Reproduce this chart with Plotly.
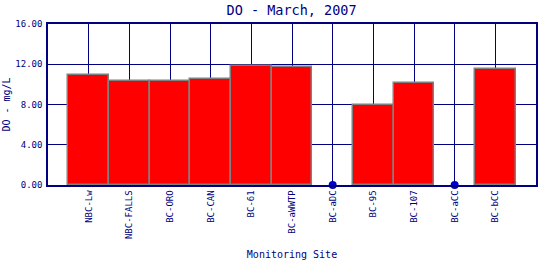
import plotly.graph_objects as go

sites = ["NBC-Lw", "NBC-FALLS", "BC-ORO", "BC-CAN", "BC-61", "BC-aWWTP",
         "BC-aDC", "BC-95", "BC-107", "BC-aCC", "BC-bCC"]
do_values = [10.9, 10.34, 10.34, 10.5, 11.8, 11.7, None, 7.95, 10.14, None, 11.5]
missing_sites = ["BC-aDC", "BC-aCC"]
missing_values = [0, 0]
y_ticks = [0, 4, 8, 12, 16]

navy = "#000080"
font = "DejaVu Sans Mono"

idx = {s: i for i, s in enumerate(sites)}

fig = go.Figure()
fig.add_trace(go.Bar(
    x=list(range(len(sites))), y=do_values, width=1.0,
    marker=dict(color="#FF0000", line=dict(color="#808080", width=1.5)),
    showlegend=False,
))
fig.add_trace(go.Scatter(
    x=[idx[s] for s in missing_sites], y=missing_values, mode="markers",
    marker=dict(color="#0000CC", size=8), showlegend=False, cliponaxis=False,
))

fig.update_layout(
    width=540, height=260,
    margin=dict(l=48, r=4, t=24, b=75, autoexpand=False),
    paper_bgcolor="white", plot_bgcolor="white",
    title=dict(text="DO - March, 2007", x=0.54, xanchor="center", y=0.962, yanchor="middle",
               font=dict(family=font, size=13.5, color=navy)),
    xaxis=dict(
        range=[-1, len(sites)], tickmode="array",
        tickvals=list(range(len(sites))), ticktext=sites, tickangle=-90,
        tickfont=dict(family=font, size=9, color=navy),
        showgrid=True, gridcolor=navy, gridwidth=1.3,
        showline=True, linecolor=navy, linewidth=1.5, mirror=True,
        ticks="", zeroline=False, automargin=False,
        title=dict(text="Monitoring Site", font=dict(family=font, size=10, color=navy), standoff=13),
    ),
    yaxis=dict(
        range=[0, 16], tickmode="array", tickvals=y_ticks,
        tickformat=".2f",
        tickfont=dict(family=font, size=9, color=navy),
        showgrid=True, gridcolor=navy, gridwidth=1.3,
        showline=True, linecolor=navy, linewidth=1.5, mirror=True,
        ticks="", zeroline=False, ticklabelstandoff=2, automargin=False,
        title=dict(text="DO - mg/L", font=dict(family=font, size=10, color=navy), standoff=3),
    ),
    bargap=0,
)

fig.write_html("out.html")
